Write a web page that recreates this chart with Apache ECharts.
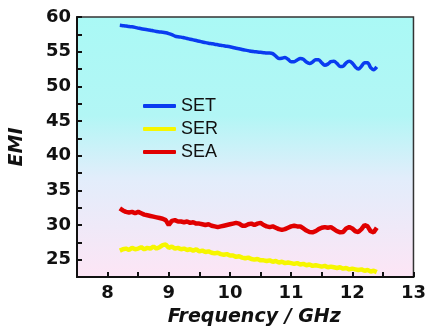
<!DOCTYPE html>
<html>
<head>
<meta charset="utf-8">
<script src="https://cdn.jsdelivr.net/npm/echarts@6/dist/echarts.min.js"></script>
<style>
  html, body { margin: 0; padding: 0; background: #fff; }
  #main { width: 429px; height: 334px; }
</style>
</head>
<body>
<div id="main"></div>
<script>
// frequency points (GHz)
var freq = [8.2, 8.25, 8.3, 8.35, 8.4, 8.45, 8.5, 8.55, 8.6, 8.65, 8.7, 8.75, 8.8, 8.85, 8.9, 8.95,
  9.0, 9.05, 9.1, 9.15, 9.2, 9.25, 9.3, 9.35, 9.4, 9.45, 9.5, 9.55, 9.6, 9.65, 9.7, 9.75, 9.8, 9.85, 9.9, 9.95,
  10.0, 10.05, 10.1, 10.15, 10.2, 10.25, 10.3, 10.35, 10.4, 10.45, 10.5, 10.55, 10.6, 10.65, 10.7, 10.75, 10.8, 10.85, 10.9, 10.95,
  11.0, 11.05, 11.1, 11.15, 11.2, 11.25, 11.3, 11.35, 11.4, 11.45, 11.5, 11.55, 11.6, 11.65, 11.7, 11.75, 11.8, 11.85, 11.9, 11.95,
  12.0, 12.05, 12.1, 12.15, 12.2, 12.25, 12.3, 12.35, 12.4];

var setVals = [58.80, 58.75, 58.70, 58.62, 58.58, 58.50, 58.40, 58.30, 58.22, 58.15, 58.10, 58.00, 57.92, 57.85, 57.80, 57.72,
  57.60, 57.45, 57.25, 57.15, 57.10, 57.00, 56.90, 56.80, 56.70, 56.60, 56.50, 56.40, 56.30, 56.22, 56.15, 56.08, 56.00, 55.92, 55.85, 55.78,
  55.70, 55.60, 55.50, 55.42, 55.32, 55.22, 55.15, 55.05, 55.00, 54.95, 54.90, 54.85, 54.80, 54.82, 54.72, 54.35, 54.00, 54.05, 54.15, 53.90,
  53.55, 53.55, 53.80, 54.00, 53.90, 53.50, 53.30, 53.50, 53.85, 53.85, 53.40, 53.05, 53.20, 53.55, 53.60, 53.30, 52.85, 52.90, 53.40, 53.60,
  53.35, 52.80, 52.50, 52.90, 53.40, 53.40, 52.70, 52.40, 52.80];

var serVals = [26.3, 26.5, 26.6, 26.4, 26.7, 26.5, 26.6, 26.8, 26.5, 26.7, 26.6, 26.9, 26.6, 26.8, 27.1, 27.2,
  26.7, 26.9, 26.6, 26.7, 26.5, 26.6, 26.4, 26.5, 26.3, 26.5, 26.2, 26.3, 26.1, 26.2, 26.0, 25.9, 26.0, 25.8, 25.7, 25.8,
  25.6, 25.6, 25.4, 25.5, 25.3, 25.2, 25.3, 25.1, 25.0, 25.1, 24.9, 24.9, 24.8, 24.9, 24.7, 24.8, 24.6, 24.7, 24.5, 24.6,
  24.5, 24.4, 24.5, 24.3, 24.4, 24.2, 24.3, 24.1, 24.2, 24.1, 24.0, 24.1, 23.9, 24.0, 23.9, 23.8, 23.9, 23.7, 23.8, 23.6,
  23.7, 23.6, 23.5, 23.6, 23.4, 23.5, 23.3, 23.4, 23.2];

var seaVals = [32.4, 32.1, 31.9, 31.8, 31.9, 31.7, 31.9, 31.7, 31.5, 31.4, 31.3, 31.2, 31.1, 31.0, 30.9, 30.7,
  30.0, 30.6, 30.7, 30.5, 30.5, 30.4, 30.5, 30.3, 30.4, 30.2, 30.2, 30.1, 30.0, 30.1, 29.9, 29.8, 29.7, 29.8, 29.9, 30.0,
  30.1, 30.2, 30.3, 30.2, 29.9, 29.9, 30.1, 30.2, 30.0, 30.2, 30.3, 30.0, 29.8, 29.7, 29.8, 29.6, 29.4, 29.3, 29.4, 29.6,
  29.8, 29.9, 29.8, 29.8, 29.5, 29.2, 29.0, 28.95, 29.1, 29.4, 29.6, 29.7, 29.6, 29.7, 29.4, 29.1, 28.95, 29.0, 29.5, 29.7,
  29.5, 29.1, 29.0, 29.4, 30.0, 29.8, 29.1, 28.95, 29.6];

// labelled ticks; the half steps between them get a bare tick
var xTickLabels = ['8', '9', '10', '11', '12', '13'];
var yTickLabels = ['25', '30', '35', '40', '45', '50', '55', '60'];

function pairs(xs, ys) {
  return xs.map(function (x, i) { return [x, ys[i]]; });
}

function labelOnly(list) {
  return function (v) {
    var s = String(Math.round(v * 100) / 100);
    return list.indexOf(s) >= 0 ? s : '';
  };
}

var chart = echarts.init(document.getElementById('main'));
var font = 'DejaVu Sans';
chart.setOption({
  animation: false,
  grid: {
    left: 76, top: 17, right: 14, bottom: 57,
    show: true,
    z: -5,
    borderColor: '#333',
    borderWidth: 1.5,
    backgroundColor: {
      type: 'linear', x: 0, y: 0, x2: 0, y2: 1,
      colorStops: [
        {offset: 0, color: '#aaf9f5'},
        {offset: 0.38, color: '#b2f6f5'},
        {offset: 0.62, color: '#e2edfb'},
        {offset: 1, color: '#fde5f5'}
      ]
    }
  },
  legend: {
    orient: 'vertical',
    left: 138, top: 92,
    itemWidth: 33, itemHeight: 4,
    itemGap: 5,
    icon: 'roundRect',
    textStyle: {fontFamily: 'Liberation Sans', fontSize: 18, color: '#111'},
    data: ['SET', 'SER', 'SEA']
  },
  xAxis: {
    type: 'value', min: 7.5, max: 13, interval: 0.5, z: 10,
    name: 'Frequency / GHz', nameLocation: 'middle', nameGap: 31,
    nameTextStyle: {fontFamily: font, fontSize: 19, fontWeight: 'bold', fontStyle: 'italic', color: '#111', padding: [0, 0, 0, 18]},
    axisLine: {show: true, onZero: false, lineStyle: {color: '#111', width: 2}},
    axisTick: {show: true, inside: true, length: 5, lineStyle: {color: '#111', width: 2}},
    axisLabel: {fontFamily: font, fontSize: 18, fontWeight: 'bold', color: '#111', margin: 7,
      showMinLabel: true, showMaxLabel: true, hideOverlap: false, formatter: labelOnly(xTickLabels)},
    splitLine: {show: false}
  },
  yAxis: {
    type: 'value', min: 22.5, max: 60, interval: 2.5, z: 10,
    name: 'EMI', nameLocation: 'middle', nameGap: 44, nameRotate: 90,
    nameTextStyle: {fontFamily: font, fontSize: 19, fontWeight: 'bold', fontStyle: 'italic', color: '#111', padding: [0, 0, 6, 0]},
    axisLine: {show: true, onZero: false, lineStyle: {color: '#111', width: 2}},
    axisTick: {show: true, inside: true, length: 5, lineStyle: {color: '#111', width: 2}},
    axisLabel: {fontFamily: font, fontSize: 18, fontWeight: 'bold', color: '#111', margin: 6,
      showMinLabel: true, showMaxLabel: true, hideOverlap: false, formatter: labelOnly(yTickLabels)},
    splitLine: {show: false}
  },
  series: [{
    name: 'SET', type: 'line', showSymbol: false, smooth: 0.3,
    color: '#0a3cf0', lineStyle: {width: 3.5},
    data: pairs(freq, setVals)
  }, {
    name: 'SER', type: 'line', showSymbol: false,
    color: '#f6f600', lineStyle: {width: 4.5},
    data: pairs(freq, serVals)
  }, {
    name: 'SEA', type: 'line', showSymbol: false,
    color: '#e00000', lineStyle: {width: 4.5},
    data: pairs(freq, seaVals)
  }]
});
</script>
</body>
</html>
